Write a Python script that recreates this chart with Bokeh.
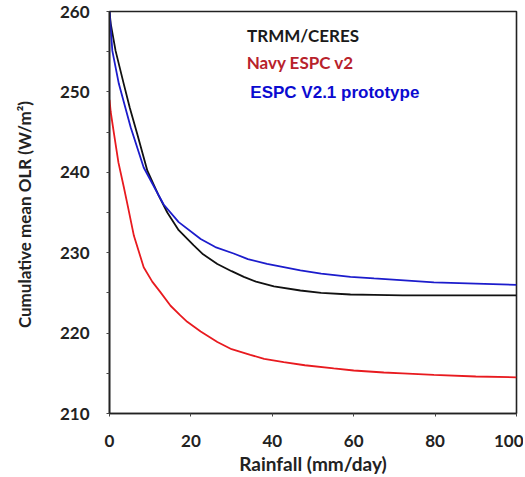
from bokeh.plotting import figure
from bokeh.models import Range1d, FixedTicker, Label
from bokeh.embed import file_html
from bokeh.resources import INLINE

# ---- data ----
trmm_x = [0, 0.3, 1.5, 3.5, 5, 6.8, 9.3, 12, 14.2, 17, 20.7, 23, 26.5, 30, 33, 36,
          40.4, 46.9, 52, 59.2, 65, 72, 80, 90, 100]
trmm_y = [260, 258.5, 255.1, 251.0, 248.0, 244.8, 240.2, 237.2, 235.0, 232.8, 230.9,
          229.8, 228.6, 227.7, 227.0, 226.4, 225.8, 225.3, 225.0, 224.8, 224.75,
          224.7, 224.7, 224.7, 224.7]

v21_x = [0, 0.7, 2.3, 5.2, 8.4, 13.3, 17, 22.4, 26, 30.5, 34, 38.7, 46.9, 52, 59.2,
         65, 71.5, 79.7, 90, 100]
v21_y = [260, 255.1, 251.0, 245.6, 240.6, 236.0, 233.8, 231.7, 230.7, 229.9, 229.2,
         228.6, 227.8, 227.4, 227.0, 226.8, 226.6, 226.3, 226.15, 226.0]

navy_x = [0, 0.3, 1.1, 2.2, 3.5, 4.5, 6, 8.4, 10.5, 12.5, 15, 17.4, 19.1, 22.4, 26.5,
          30, 34.6, 38, 42.8, 48, 55.1, 60, 67.4, 72, 79.7, 90, 100]
navy_y = [249, 247.5, 244.8, 241.2, 238.2, 235.8, 232.1, 228.2, 226.4, 225.1, 223.4,
          222.2, 221.4, 220.2, 218.9, 218.0, 217.3, 216.8, 216.4, 216.0, 215.6,
          215.35, 215.1, 215.0, 214.8, 214.6, 214.5]

x_ticks = [0, 20, 40, 60, 80, 100]
y_ticks = [210, 220, 230, 240, 250, 260]
y_minor = [215, 225, 235, 245, 255]

labels = ["TRMM/CERES", "Navy ESPC v2", "ESPC V2.1 prototype"]
label_x = [33.8, 33.7, 34.6]
label_y = [257.0, 253.7, 249.9]
x_title = "Rainfall (mm/day)"
y_title = "Cumulative mean OLR  (W/m\u00b2)"

CAL = "Lato"

p = figure(width=523, height=477, output_backend="svg", toolbar_location=None,
           x_range=Range1d(0, 100), y_range=Range1d(210, 260),
           min_border_left=109, min_border_right=7, min_border_top=11,
           min_border_bottom=64)
p.background_fill_color = "white"
p.border_fill_color = "white"
p.outline_line_color = "#222222"
p.outline_line_width = 1.6
p.xgrid.visible = False
p.ygrid.visible = False

p.line(trmm_x, trmm_y, line_color="#111111", line_width=1.8)
p.line(v21_x, v21_y, line_color="#1c1ccc", line_width=1.8)
p.line(navy_x, navy_y, line_color="#e81a1f", line_width=1.8)

for ax in (p.xaxis[0], p.yaxis[0]):
    ax.axis_line_color = "#222222"
    ax.axis_line_width = 1.6
    ax.major_tick_line_color = "#444444"
    ax.minor_tick_line_color = "#444444"
    ax.major_tick_in = 0
    ax.major_tick_out = 3
    ax.minor_tick_in = 0
    ax.minor_tick_out = 3
    ax.major_label_text_font = CAL
    ax.major_label_text_font_style = "bold"
    ax.major_label_text_font_size = "17px"
    ax.major_label_text_color = "#222222"
    ax.axis_label_text_font = CAL
    ax.axis_label_text_font_style = "bold"
    ax.axis_label_text_color = "#222222"

p.xaxis.axis_label_text_font_size = "19px"
p.yaxis.axis_label_text_font_size = "17px"
p.xaxis.ticker = FixedTicker(ticks=x_ticks, minor_ticks=[])
p.yaxis.ticker = FixedTicker(ticks=y_ticks, minor_ticks=y_minor)
p.xaxis.major_label_standoff = 18
p.yaxis.major_label_standoff = 17
p.xaxis.axis_label = x_title
p.yaxis.axis_label = y_title
p.xaxis.axis_label_standoff = 2
p.yaxis.axis_label_standoff = 22

colors = ["#1a1a1a", "#b8222b", "#0b0bd0"]
fonts = [CAL, CAL, "Liberation Sans"]
sizes = ["17px", "17px", "17px"]
for t, lx, ly, c, f, s in zip(labels, label_x, label_y, colors, fonts, sizes):
    p.add_layout(Label(x=lx, y=ly, text=t, text_color=c, text_font=f,
                       text_font_style="bold", text_font_size=s,
                       text_baseline="middle", text_align="left"))

open("out.html", "w").write(file_html(p, INLINE))
